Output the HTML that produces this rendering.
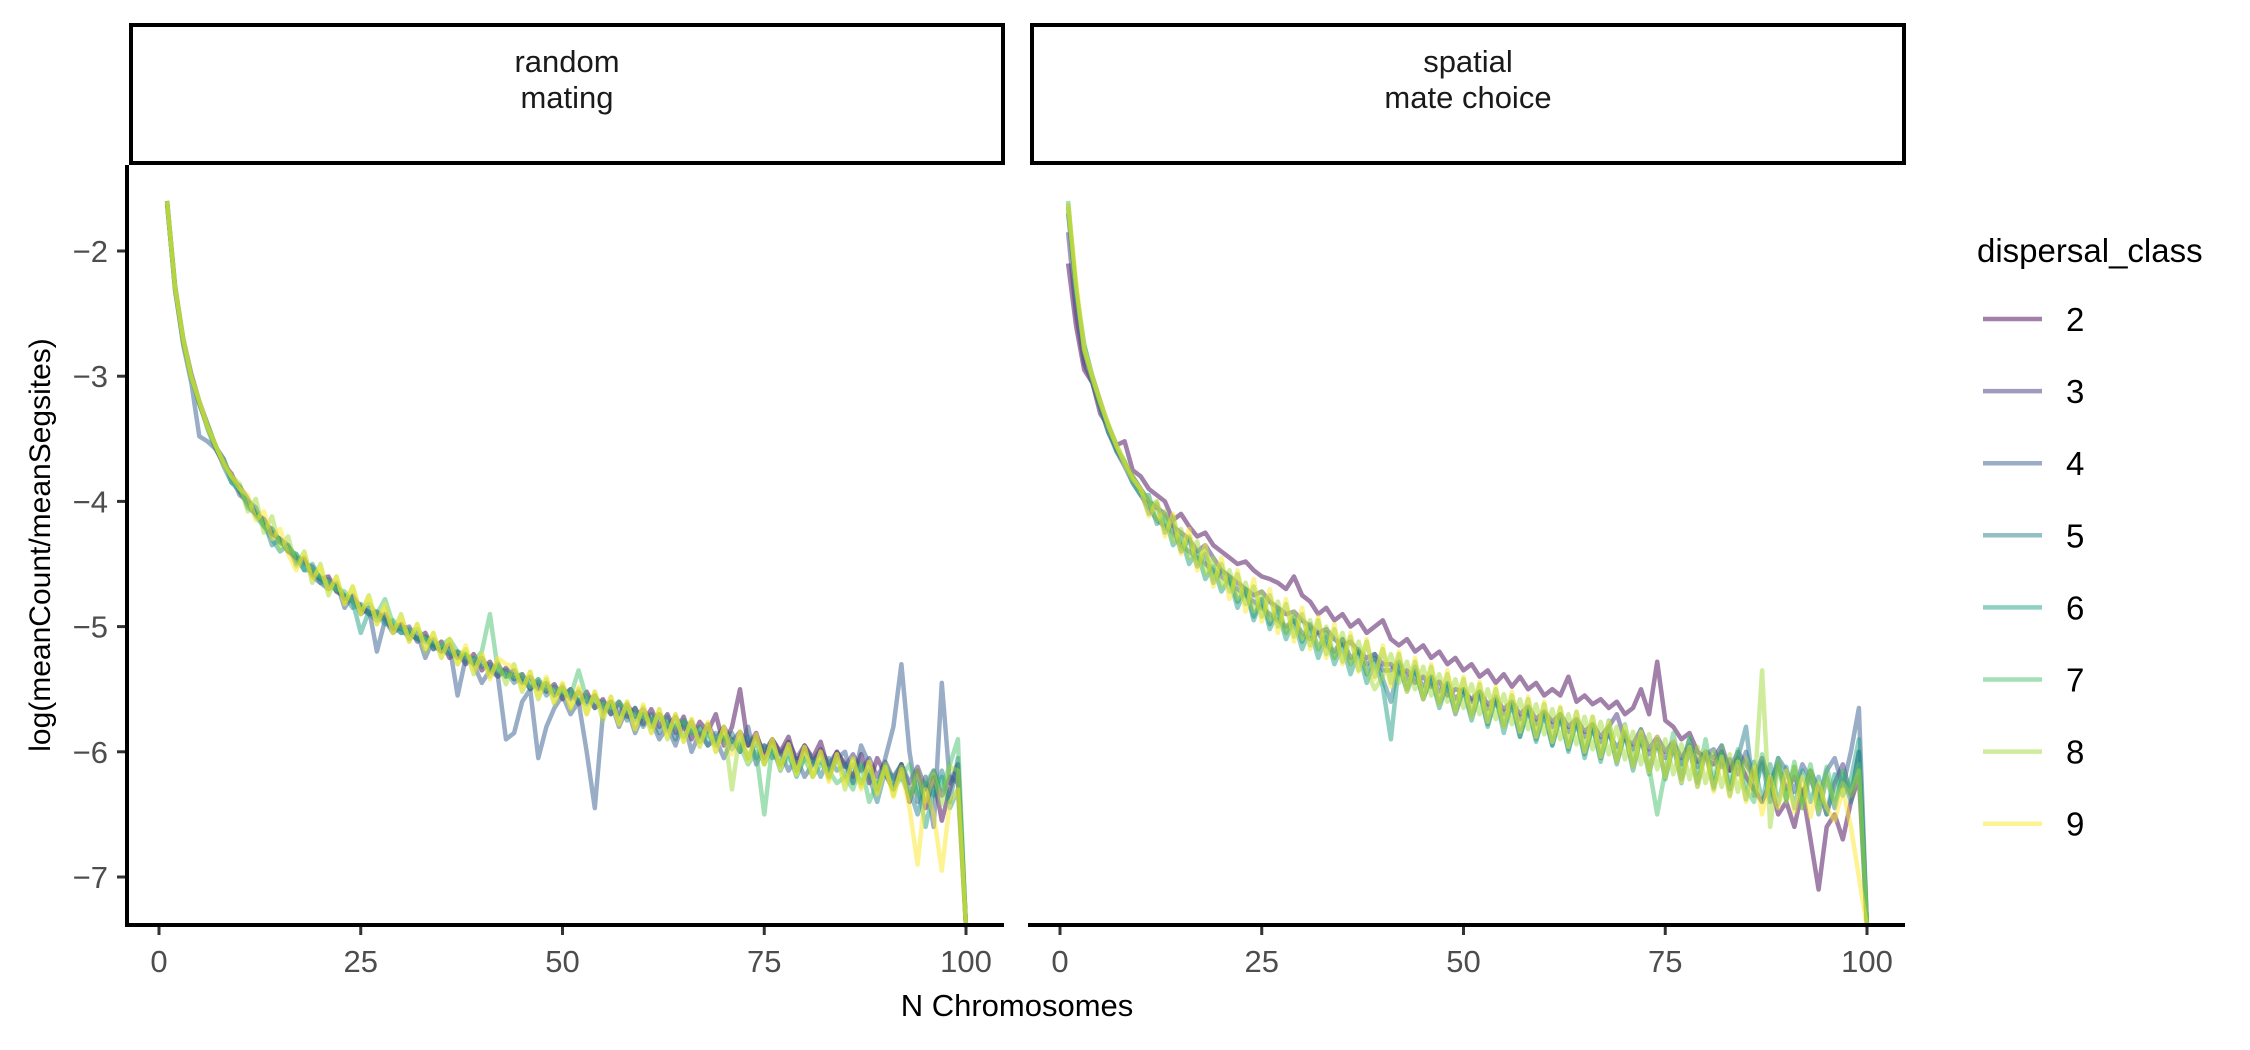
<!DOCTYPE html>
<html><head><meta charset="utf-8"><style>
html,body{margin:0;padding:0;background:#fff;}
svg{display:block;font-family:"Liberation Sans",Arial,sans-serif;}
</style></head><body>
<svg id="chart" width="2250" height="1050" viewBox="0 0 2250 1050">
<rect x="0" y="0" width="2250" height="1050" fill="#fff"/>
<g id="root"></g>
</svg>
<script>
const classes = [2,3,4,5,6,7,8,9];
const colors = ["#440154","#46337E","#365C8D","#277F8E","#1FA187","#4AC16D","#9FDA3A","#FDE725"];
const panels = ["random\nmating","spatial\nmate choice"];
const xTicks = [0,25,50,75,100];
const yTicks = [-2,-3,-4,-5,-6,-7];

const L2=[-1.62,-2.30,-2.72,-3.00,-3.22,-3.40,-3.57,-3.70,-3.78,-3.92,-4.02,-4.10,-4.14,-4.26,-4.30,-4.40,-4.45,-4.47,-4.58,-4.62,-4.60,-4.72,-4.76,-4.80,-4.85,-4.90,-4.88,-4.95,-5.02,-4.98,-5.05,-5.10,-5.05,-5.18,-5.12,-5.25,-5.20,-5.30,-5.22,-5.35,-5.28,-5.40,-5.33,-5.42,-5.38,-5.50,-5.44,-5.52,-5.46,-5.58,-5.50,-5.62,-5.52,-5.65,-5.58,-5.70,-5.60,-5.72,-5.65,-5.78,-5.66,-5.80,-5.70,-5.85,-5.72,-5.90,-5.76,-5.84,-5.70,-5.95,-5.80,-5.50,-5.95,-5.85,-6.05,-5.90,-6.00,-5.88,-6.10,-5.95,-6.05,-5.92,-6.15,-6.00,-6.10,-6.20,-6.02,-6.25,-6.05,-6.18,-6.30,-6.10,-6.40,-6.15,-6.45,-6.20,-6.55,-6.30,-6.10,-7.40];
const L3=[-1.60,-2.28,-2.70,-2.98,-3.20,-3.38,-3.56,-3.66,-3.82,-3.88,-3.98,-4.10,-4.18,-4.22,-4.33,-4.36,-4.45,-4.50,-4.52,-4.62,-4.66,-4.67,-4.78,-4.76,-4.84,-4.88,-4.92,-4.90,-5.00,-5.02,-5.00,-5.12,-5.08,-5.15,-5.20,-5.14,-5.25,-5.22,-5.30,-5.25,-5.35,-5.30,-5.40,-5.35,-5.45,-5.40,-5.50,-5.45,-5.55,-5.48,-5.58,-5.52,-5.60,-5.55,-5.65,-5.60,-5.70,-5.62,-5.72,-5.66,-5.75,-5.70,-5.80,-5.72,-5.82,-5.76,-5.88,-5.78,-5.90,-5.80,-5.92,-5.84,-5.95,-5.88,-6.00,-5.90,-6.02,-5.92,-6.05,-5.95,-6.08,-5.98,-6.10,-6.00,-6.12,-6.02,-6.15,-6.05,-6.20,-6.08,-6.22,-6.10,-6.25,-6.12,-6.30,-6.15,-6.35,-6.20,-6.25,-7.40];
const L4=[-1.62,-2.30,-2.75,-3.05,-3.48,-3.52,-3.58,-3.70,-3.80,-3.95,-4.00,-4.05,-4.20,-4.25,-4.30,-4.35,-4.50,-4.45,-4.60,-4.65,-4.70,-4.65,-4.85,-4.75,-4.90,-4.85,-5.20,-4.95,-5.05,-5.00,-5.10,-5.05,-5.25,-5.10,-5.20,-5.15,-5.55,-5.25,-5.30,-5.45,-5.35,-5.40,-5.90,-5.85,-5.60,-5.50,-6.05,-5.80,-5.65,-5.55,-5.70,-5.60,-6.00,-6.45,-5.70,-5.60,-5.80,-5.65,-5.85,-5.70,-5.75,-5.90,-5.80,-5.95,-5.75,-6.00,-5.85,-5.95,-5.90,-6.05,-5.90,-6.00,-5.80,-6.10,-5.95,-6.05,-6.00,-6.15,-6.05,-6.20,-6.10,-6.00,-6.20,-6.05,-6.00,-6.25,-5.95,-6.10,-6.30,-6.05,-5.80,-5.30,-6.00,-6.40,-6.20,-6.60,-5.45,-6.25,-6.10,-7.40];
const L5=[-1.60,-2.32,-2.72,-3.00,-3.22,-3.40,-3.55,-3.72,-3.85,-3.88,-4.05,-4.10,-4.15,-4.35,-4.30,-4.40,-4.42,-4.55,-4.55,-4.65,-4.62,-4.72,-4.75,-4.85,-4.82,-4.90,-4.95,-4.92,-5.00,-5.05,-5.05,-5.10,-5.12,-5.15,-5.18,-5.22,-5.20,-5.28,-5.25,-5.32,-5.30,-5.38,-5.35,-5.45,-5.40,-5.50,-5.42,-5.55,-5.48,-5.55,-5.50,-5.60,-5.55,-5.65,-5.60,-5.70,-5.62,-5.75,-5.65,-5.80,-5.70,-5.85,-5.72,-5.90,-5.75,-5.85,-5.80,-5.95,-5.85,-5.90,-5.85,-6.00,-5.88,-6.05,-5.95,-6.00,-6.10,-5.95,-6.15,-6.00,-6.05,-6.20,-6.05,-6.15,-6.10,-6.25,-6.10,-6.20,-6.40,-6.15,-6.20,-6.10,-6.30,-6.50,-6.25,-6.35,-6.15,-6.40,-6.05,-7.40];
const L6=[-1.61,-2.30,-2.70,-3.02,-3.20,-3.42,-3.58,-3.66,-3.85,-3.92,-4.00,-4.12,-4.20,-4.30,-4.40,-4.35,-4.45,-4.55,-4.50,-4.62,-4.70,-4.68,-4.75,-4.80,-5.05,-4.88,-4.90,-4.98,-4.95,-5.05,-5.02,-5.10,-5.08,-5.18,-5.15,-5.20,-5.25,-5.22,-5.30,-5.28,-5.35,-5.32,-5.40,-5.38,-5.45,-5.42,-5.50,-5.45,-5.55,-5.50,-5.55,-5.58,-5.62,-5.55,-5.68,-5.62,-5.72,-5.65,-5.75,-5.70,-5.80,-5.72,-5.82,-5.78,-5.88,-5.80,-5.92,-5.85,-5.95,-5.88,-5.98,-5.90,-6.05,-5.92,-6.10,-5.95,-6.15,-6.00,-6.20,-6.05,-6.10,-6.08,-6.15,-6.05,-6.20,-6.10,-6.25,-6.15,-6.30,-6.10,-6.25,-6.20,-6.35,-6.25,-6.60,-6.30,-6.20,-6.45,-6.30,-7.40];
const L7=[-1.60,-2.29,-2.70,-3.00,-3.22,-3.38,-3.55,-3.70,-3.82,-3.90,-4.02,-4.08,-4.18,-4.22,-4.32,-4.38,-4.42,-4.50,-4.55,-4.60,-4.65,-4.70,-4.72,-4.80,-4.85,-4.82,-4.90,-4.78,-4.98,-5.00,-5.05,-5.02,-5.10,-5.12,-5.15,-5.10,-5.20,-5.22,-5.28,-5.20,-4.90,-5.35,-5.38,-5.40,-5.38,-5.48,-5.42,-5.50,-5.50,-5.52,-5.55,-5.35,-5.58,-5.60,-5.62,-5.65,-5.60,-5.68,-5.70,-5.72,-5.75,-5.70,-5.78,-5.80,-5.75,-5.85,-5.82,-5.88,-5.90,-5.85,-5.92,-5.95,-6.10,-6.00,-6.50,-5.95,-6.10,-6.05,-6.15,-6.05,-6.20,-6.10,-6.15,-6.25,-6.20,-6.30,-6.10,-6.40,-6.25,-6.15,-6.30,-6.20,-6.10,-6.35,-6.25,-6.15,-6.30,-6.10,-5.90,-7.40];
const L8=[-1.61,-2.28,-2.72,-3.01,-3.20,-3.40,-3.56,-3.68,-3.80,-3.86,-4.08,-3.98,-4.25,-4.12,-4.38,-4.28,-4.52,-4.40,-4.65,-4.50,-4.75,-4.60,-4.82,-4.68,-4.90,-4.75,-4.98,-4.85,-5.05,-4.90,-5.12,-4.98,-5.20,-5.05,-5.25,-5.10,-5.30,-5.18,-5.38,-5.22,-5.40,-5.28,-5.46,-5.30,-5.52,-5.36,-5.58,-5.42,-5.62,-5.46,-5.66,-5.50,-5.70,-5.52,-5.75,-5.56,-5.78,-5.60,-5.82,-5.64,-5.85,-5.66,-5.90,-5.70,-5.92,-5.74,-5.96,-5.78,-6.00,-5.80,-6.30,-5.84,-6.05,-5.88,-6.10,-5.90,-6.12,-5.94,-6.18,-5.96,-6.20,-6.00,-6.22,-6.02,-6.30,-6.05,-6.28,-6.08,-6.32,-6.10,-6.35,-6.12,-6.38,-6.15,-6.40,-6.18,-6.42,-6.12,-6.15,-7.40];
const L9=[-1.60,-2.30,-2.70,-3.00,-3.20,-3.40,-3.55,-3.70,-3.80,-3.90,-3.95,-4.15,-4.08,-4.30,-4.22,-4.42,-4.55,-4.42,-4.62,-4.52,-4.72,-4.60,-4.82,-4.68,-4.90,-4.76,-4.98,-4.82,-5.05,-4.92,-5.12,-4.98,-5.18,-5.05,-5.24,-5.10,-5.30,-5.15,-5.36,-5.22,-5.42,-5.25,-5.30,-5.32,-5.50,-5.36,-5.56,-5.40,-5.60,-5.45,-5.65,-5.48,-5.70,-5.52,-5.72,-5.56,-5.78,-5.60,-5.82,-5.62,-5.85,-5.66,-5.88,-5.70,-5.92,-5.74,-5.95,-5.76,-6.00,-5.80,-6.02,-5.84,-6.08,-5.86,-6.10,-5.90,-6.14,-5.94,-6.18,-5.96,-6.20,-6.00,-6.24,-6.02,-6.26,-6.06,-6.30,-6.08,-6.34,-6.12,-6.36,-6.14,-6.45,-6.90,-6.30,-6.50,-6.95,-6.40,-6.30,-7.40];

const R2=[-2.10,-2.60,-2.95,-3.05,-3.30,-3.40,-3.55,-3.52,-3.75,-3.80,-3.90,-3.95,-4.00,-4.15,-4.10,-4.20,-4.28,-4.25,-4.35,-4.40,-4.45,-4.50,-4.48,-4.55,-4.60,-4.62,-4.65,-4.70,-4.60,-4.75,-4.80,-4.90,-4.85,-4.95,-4.90,-5.00,-4.95,-5.05,-5.00,-4.95,-5.10,-5.15,-5.10,-5.20,-5.15,-5.25,-5.20,-5.30,-5.25,-5.35,-5.30,-5.40,-5.35,-5.45,-5.38,-5.48,-5.40,-5.50,-5.45,-5.55,-5.50,-5.55,-5.40,-5.60,-5.55,-5.62,-5.58,-5.65,-5.60,-5.70,-5.65,-5.50,-5.70,-5.28,-5.75,-5.80,-5.90,-5.85,-6.00,-6.05,-6.10,-6.00,-6.15,-6.05,-6.20,-6.30,-6.40,-6.25,-6.50,-6.40,-6.60,-6.30,-6.70,-7.10,-6.60,-6.50,-6.70,-6.40,-6.20,-7.40];
const R3=[-1.85,-2.50,-2.90,-3.05,-3.25,-3.45,-3.58,-3.70,-3.80,-3.90,-4.00,-4.05,-4.10,-4.20,-4.25,-4.30,-4.40,-4.35,-4.45,-4.55,-4.60,-4.65,-4.70,-4.75,-4.72,-4.80,-4.85,-4.90,-4.88,-4.95,-5.00,-5.05,-5.02,-5.10,-5.15,-5.12,-5.20,-5.25,-5.22,-5.30,-5.30,-5.38,-5.35,-5.45,-5.40,-5.48,-5.44,-5.55,-5.50,-5.52,-5.58,-5.52,-5.62,-5.58,-5.66,-5.60,-5.70,-5.64,-5.74,-5.68,-5.76,-5.70,-5.80,-5.74,-5.84,-5.78,-5.88,-5.80,-5.70,-5.90,-5.94,-5.82,-5.98,-5.88,-6.00,-5.92,-6.05,-5.95,-6.08,-6.00,-6.05,-5.95,-6.15,-6.00,-6.10,-6.20,-6.05,-6.25,-6.10,-6.30,-6.20,-6.35,-6.15,-6.30,-6.50,-6.25,-6.10,-6.35,-6.00,-7.40];
const R4=[-1.70,-2.30,-2.85,-3.00,-3.20,-3.40,-3.60,-3.72,-3.85,-3.95,-4.05,-4.15,-4.20,-4.25,-4.35,-4.40,-4.45,-4.50,-4.55,-4.60,-4.65,-4.70,-4.75,-4.80,-4.85,-4.90,-4.95,-5.00,-4.95,-5.05,-5.10,-5.05,-5.15,-5.20,-5.10,-5.25,-5.20,-5.30,-5.25,-5.35,-5.35,-5.28,-5.42,-5.36,-5.48,-5.40,-5.52,-5.46,-5.58,-5.50,-5.60,-5.54,-5.66,-5.60,-5.70,-5.62,-5.74,-5.68,-5.78,-5.70,-5.80,-5.74,-5.84,-5.78,-5.88,-5.82,-5.92,-5.86,-5.96,-5.88,-5.98,-5.92,-6.02,-5.95,-6.05,-5.98,-6.10,-5.90,-6.12,-6.02,-5.98,-6.12,-6.06,-6.18,-6.00,-6.22,-6.10,-6.28,-6.05,-6.15,-6.32,-6.10,-6.22,-6.38,-6.15,-6.05,-6.28,-6.00,-5.65,-7.40];
const R5=[-1.65,-2.35,-2.80,-3.05,-3.25,-3.45,-3.60,-3.70,-3.82,-3.92,-4.10,-4.02,-4.25,-4.18,-4.40,-4.30,-4.52,-4.42,-4.65,-4.55,-4.60,-4.80,-4.70,-4.92,-4.78,-4.98,-4.85,-5.05,-4.92,-5.12,-4.98,-5.18,-5.05,-5.25,-5.10,-5.30,-5.18,-5.38,-5.22,-5.42,-5.60,-5.30,-5.50,-5.32,-5.58,-5.40,-5.62,-5.45,-5.70,-5.50,-5.72,-5.52,-5.78,-5.58,-5.80,-5.62,-5.88,-5.66,-5.90,-5.70,-5.95,-5.72,-5.98,-5.76,-6.02,-5.80,-6.05,-5.82,-6.08,-5.86,-6.12,-5.88,-6.15,-5.90,-6.20,-5.95,-6.22,-5.98,-6.25,-6.00,-6.28,-6.02,-6.30,-6.05,-5.80,-6.35,-6.08,-6.40,-6.10,-6.38,-6.12,-6.45,-6.15,-6.50,-6.20,-6.45,-6.18,-6.40,-6.00,-7.40];
const R6=[-1.62,-2.32,-2.75,-3.00,-3.22,-3.42,-3.58,-3.68,-3.85,-3.95,-3.95,-4.18,-4.12,-4.35,-4.28,-4.50,-4.40,-4.62,-4.52,-4.72,-4.62,-4.85,-4.70,-4.95,-4.78,-5.02,-4.88,-5.10,-4.95,-5.18,-5.02,-5.25,-5.08,-5.30,-5.15,-5.38,-5.20,-5.45,-5.28,-5.48,-5.90,-5.30,-5.52,-5.35,-5.58,-5.40,-5.65,-5.45,-5.68,-5.50,-5.75,-5.52,-5.80,-5.56,-5.85,-5.60,-5.88,-5.64,-5.92,-5.68,-5.95,-5.70,-6.00,-5.74,-6.05,-5.78,-6.08,-5.80,-6.10,-5.84,-6.15,-5.88,-6.18,-5.90,-6.22,-5.94,-6.25,-5.96,-6.28,-6.00,-6.30,-6.02,-6.35,-6.05,-6.38,-6.08,-6.40,-6.10,-6.42,-6.12,-6.45,-6.15,-6.40,-6.20,-6.50,-6.18,-6.35,-6.22,-5.90,-7.40];
const R7=[-1.60,-2.30,-2.75,-3.00,-3.20,-3.40,-3.55,-3.70,-3.80,-3.90,-4.05,-4.00,-4.22,-4.12,-4.38,-4.28,-4.50,-4.38,-4.62,-4.50,-4.72,-4.58,-4.82,-4.68,-4.92,-4.75,-5.00,-4.82,-5.08,-4.90,-5.15,-4.95,-5.22,-5.02,-5.28,-5.08,-5.35,-5.12,-5.40,-5.18,-5.45,-5.22,-5.50,-5.28,-5.55,-5.32,-5.60,-5.38,-5.65,-5.42,-5.70,-5.46,-5.74,-5.50,-5.78,-5.55,-5.82,-5.58,-5.86,-5.62,-5.90,-5.65,-5.94,-5.68,-5.98,-5.72,-6.02,-5.75,-6.05,-5.78,-6.08,-5.82,-6.12,-6.50,-6.15,-5.85,-6.18,-5.88,-6.22,-5.90,-6.25,-5.95,-6.28,-5.98,-6.30,-6.40,-6.02,-6.35,-6.05,-6.38,-6.08,-6.40,-6.10,-6.42,-6.12,-6.38,-6.15,-6.30,-6.10,-7.40];
const R8=[-1.65,-2.28,-2.80,-3.02,-3.22,-3.38,-3.55,-3.68,-3.80,-3.92,-3.98,-4.15,-4.08,-4.32,-4.22,-4.45,-4.32,-4.58,-4.45,-4.68,-4.55,-4.78,-4.65,-4.88,-4.72,-4.95,-4.80,-5.05,-4.88,-5.10,-4.95,-5.18,-5.00,-5.25,-5.05,-5.30,-5.12,-5.35,-5.50,-5.40,-5.22,-5.45,-5.28,-5.50,-5.32,-5.55,-5.38,-5.60,-5.42,-5.65,-5.46,-5.70,-5.50,-5.74,-5.54,-5.78,-5.58,-5.82,-5.62,-5.86,-5.66,-5.90,-5.70,-5.94,-5.72,-5.98,-5.76,-6.02,-5.80,-6.06,-5.84,-6.10,-5.86,-6.14,-5.90,-6.18,-5.94,-6.22,-5.96,-6.25,-6.00,-6.28,-6.02,-6.32,-6.05,-6.35,-5.35,-6.60,-6.10,-6.40,-6.12,-6.45,-6.15,-6.48,-6.20,-6.42,-6.25,-6.35,-6.15,-7.40];
const R9=[-1.62,-2.25,-2.78,-3.00,-3.20,-3.40,-3.56,-3.70,-3.82,-3.90,-4.12,-4.00,-4.28,-4.10,-4.42,-4.22,-4.55,-4.35,-4.68,-4.45,-4.78,-4.55,-4.88,-4.62,-4.96,-4.70,-5.05,-4.78,-5.12,-4.85,-5.18,-4.92,-5.25,-4.98,-5.30,-5.05,-5.36,-5.10,-5.42,-5.15,-5.48,-5.20,-5.52,-5.25,-5.58,-5.30,-5.62,-5.35,-5.68,-5.40,-5.72,-5.44,-5.76,-5.48,-5.80,-5.52,-5.84,-5.56,-5.88,-5.60,-5.92,-5.64,-5.96,-5.68,-6.00,-5.72,-6.04,-5.76,-6.08,-5.80,-6.12,-5.84,-6.16,-5.88,-6.20,-5.92,-6.24,-5.96,-6.28,-6.00,-6.32,-6.04,-6.36,-6.08,-6.40,-6.12,-6.50,-6.20,-6.45,-6.15,-6.48,-6.20,-6.52,-6.25,-6.45,-6.55,-6.30,-6.60,-7.00,-7.40];

const leftSeries=[L2,L3,L4,L5,L6,L7,L8,L9];
const rightSeries=[R2,R3,R4,R5,R6,R7,R8,R9];

const NS="http://www.w3.org/2000/svg";
const root=document.getElementById('root');
function mk(tag,attrs,parent,text){const e=document.createElementNS(NS,tag);for(const k in attrs)e.setAttribute(k,attrs[k]);if(text!==undefined)e.textContent=text;(parent||root).appendChild(e);return e;}

const panelLeft=[129,1030], panelW=876, plotTop=165, plotBottom=925;
function yScale(v){return 251+(-2-v)*125.2;}
function xScale(p,v){return panelLeft[p]+30+(v)*8.07;}

[leftSeries,rightSeries].forEach((ser,p)=>{
  const g=mk('g',{});
  
  
  const strip=mk('rect',{x:panelLeft[p]+2,y:25,width:panelW-4,height:138,fill:'#fff',stroke:'#000','stroke-width':4},g);
  
  
  const lines=panels[p].split('\n');
  lines.forEach((ln,i)=>{
    const t=mk('text',{x:panelLeft[p]+panelW/2,y:72+i*36,'text-anchor':'middle','font-size':31,fill:'#1a1a1a'},g,ln);
    
    
  });
  ser.forEach((arr,si)=>{
    const pts=arr.map((v,i)=>xScale(p,i+1).toFixed(1)+','+yScale(v).toFixed(1)).join(' ');
    const pl=mk('polyline',{points:pts,fill:'none',stroke:colors[si],'stroke-opacity':0.5,'stroke-width':4.5,'stroke-linejoin':'round'},g);
    
    
  });
  const ax=mk('line',{x1:panelLeft[p]-2,y1:plotBottom,x2:panelLeft[p]+panelW-1,y2:plotBottom,stroke:'#000','stroke-width':4},g);
  
  
  xTicks.forEach(v=>{
    const x=xScale(p,v);
    const tk=mk('line',{x1:x,y1:plotBottom+2,x2:x,y2:plotBottom+10,stroke:'#333','stroke-width':3},g);
    
    
    const tl=mk('text',{x:x,y:972,'text-anchor':'middle','font-size':31,fill:'#4d4d4d'},g,String(v));
    
    
  });
});
const yax=mk('line',{x1:127,y1:plotTop,x2:127,y2:plotBottom+2,stroke:'#000','stroke-width':4});


yTicks.forEach(v=>{
  const y=yScale(v);
  const tk=mk('line',{x1:117,y1:y,x2:125,y2:y,stroke:'#333','stroke-width':3});
  
  
  const tl=mk('text',{x:108,y:y+11,'text-anchor':'end','font-size':31,fill:'#4d4d4d'},root,'\u2212'+Math.abs(v));
  
  
});
const yt=mk('text',{x:0,y:0,transform:'translate(50,545) rotate(-90)','text-anchor':'middle','font-size':30,fill:'#000'},root,'log(meanCount/meanSegsites)');


const xt=mk('text',{x:1017,y:1016,'text-anchor':'middle','font-size':31,fill:'#000'},root,'N Chromosomes');


const lg=mk('g',{});


const ltitle=mk('text',{x:1977,y:262,'font-size':33,fill:'#000'},lg,'dispersal_class');


classes.forEach((c,i)=>{
  const y=319+i*72.1;
  const ln=mk('line',{x1:1983,y1:y,x2:2042,y2:y,stroke:colors[i],'stroke-opacity':0.5,'stroke-width':4.5},lg);
  
  
  const t=mk('text',{x:2066,y:y+12,'font-size':33,fill:'#000'},lg,String(c));
  
  
});
</script>
</body></html>
